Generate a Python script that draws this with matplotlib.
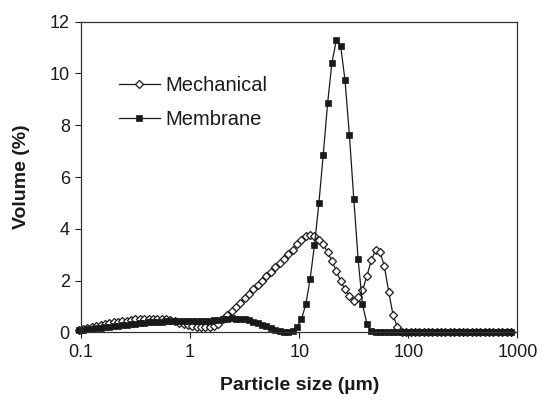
# Particle size distribution: mechanical vs membrane
import matplotlib.pyplot as plt
from matplotlib.ticker import NullLocator

# particle size bins (um)
size_um = [0.0955, 0.1047, 0.1148, 0.1259, 0.1380, 0.1514, 0.1660, 0.1820, 0.1995, 0.2188,
           0.2399, 0.2630, 0.2884, 0.3162, 0.3467, 0.3802, 0.4169, 0.4571, 0.5012, 0.5495,
           0.6026, 0.6607, 0.7244, 0.7943, 0.8710, 0.955, 1.047, 1.148, 1.259, 1.380,
           1.514, 1.660, 1.820, 1.995, 2.188, 2.399, 2.630, 2.884, 3.162, 3.467,
           3.802, 4.169, 4.571, 5.012, 5.495, 6.026, 6.607, 7.244, 7.943, 8.710,
           9.550, 10.47, 11.48, 12.59, 13.80, 15.14, 16.60, 18.20, 19.95, 21.88,
           23.99, 26.30, 28.84, 31.62, 34.67, 38.02, 41.69, 45.71, 50.12, 54.95,
           60.26, 66.07, 72.44, 79.43, 87.10, 95.50, 104.7, 114.8, 125.9, 138.0,
           151.4, 166.0, 182.0, 199.5, 218.8, 239.9, 263.0, 288.4, 316.2, 346.7,
           380.2, 416.9, 457.1, 501.2, 549.5, 602.6, 660.7, 724.4, 794.3, 871.0]

# volume (%)
mechanical = [0.10, 0.14, 0.18, 0.22, 0.26, 0.30, 0.33, 0.36, 0.39, 0.42,
              0.44, 0.46, 0.48, 0.50, 0.51, 0.52, 0.53, 0.53, 0.53, 0.52,
              0.51, 0.48, 0.44, 0.38, 0.32, 0.27, 0.24, 0.22, 0.21, 0.21,
              0.22, 0.25, 0.32, 0.50, 0.68, 0.82, 0.98, 1.15, 1.32, 1.49,
              1.66, 1.83, 2.00, 2.17, 2.34, 2.51, 2.68, 2.85, 3.02, 3.20,
              3.40, 3.58, 3.72, 3.78, 3.71, 3.58, 3.40, 3.10, 2.76, 2.38,
              1.98, 1.66, 1.40, 1.22, 1.36, 1.62, 2.17, 2.78, 3.18, 3.12,
              2.56, 1.58, 0.67, 0.20, 0.02, 0, 0, 0, 0, 0,
              0, 0, 0, 0, 0, 0, 0, 0, 0, 0,
              0, 0, 0, 0, 0, 0, 0, 0, 0, 0]

membrane = [0.08, 0.10, 0.12, 0.14, 0.16, 0.18, 0.20, 0.22, 0.24, 0.26,
            0.28, 0.30, 0.32, 0.34, 0.36, 0.37, 0.39, 0.40, 0.41, 0.42,
            0.43, 0.44, 0.44, 0.45, 0.45, 0.45, 0.45, 0.45, 0.45, 0.45,
            0.46, 0.47, 0.49, 0.51, 0.53, 0.54, 0.53, 0.52, 0.50, 0.47,
            0.42, 0.36, 0.30, 0.24, 0.17, 0.10, 0.05, 0.02, 0.02, 0.06,
            0.22, 0.50, 1.08, 2.05, 3.37, 4.98, 6.85, 8.84, 10.41, 11.28,
            11.05, 9.73, 7.62, 5.17, 2.82, 1.08, 0.34, 0.06, 0, 0,
            0, 0, 0, 0, 0, 0, 0, 0, 0, 0,
            0, 0, 0, 0, 0, 0, 0, 0, 0, 0,
            0, 0, 0, 0, 0, 0, 0, 0, 0, 0]

xticks = [0.1, 1, 10, 100, 1000]
xtick_labels = ['0.1', '1', '10', '100', '1000']

plt.rcParams['font.family'] = ['Liberation Sans', 'DejaVu Sans']
ink = '#1a1a1a'

fig = plt.figure(figsize=(5.43, 4.01), dpi=100)
ax = fig.add_axes([0.149, 0.171, 0.804, 0.775])

ax.plot(size_um, mechanical, color=ink, lw=0.9, marker='D', ms=3.8,
        mfc='white', mec=ink, mew=0.9, label='Mechanical', clip_on=False)
ax.plot(size_um, membrane, color=ink, lw=0.9, marker='s', ms=4.4,
        mfc=ink, mec=ink, mew=0.5, label='Membrane', clip_on=False)

ax.set_xscale('log')
ax.set_xlim(0.1, 1000)
ax.set_ylim(0, 12)
ax.set_xticks(xticks)
ax.set_xticklabels(xtick_labels)
ax.xaxis.set_minor_locator(NullLocator())
ax.set_yticks(range(0, 13, 2))
ax.tick_params(labelsize=13, direction='out', length=4.5, width=0.8,
               color=ink, labelcolor=ink)

for sp in ax.spines.values():
    sp.set_color('#333333')
    sp.set_linewidth(0.9)

ax.set_xlabel('Particle size (µm)', fontsize=14, fontweight='bold', color=ink, labelpad=12)
ax.set_ylabel('Volume (%)', fontsize=14, fontweight='bold', color=ink, labelpad=14)

ax.legend(loc='upper left', bbox_to_anchor=(0.088, 0.825), frameon=False,
          fontsize=14.5, handlelength=2.0, handletextpad=0.3, labelspacing=0.75,
          borderpad=0, borderaxespad=0, labelcolor=ink)

plt.savefig('out.png', dpi=100)
